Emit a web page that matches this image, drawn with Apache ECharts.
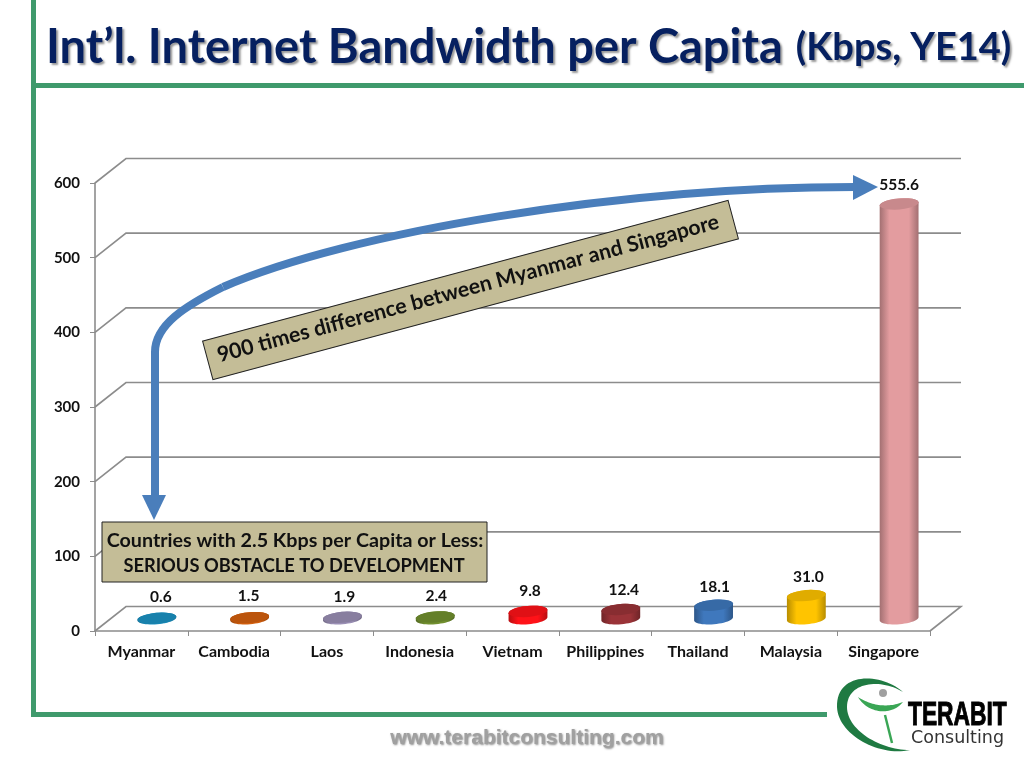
<!DOCTYPE html>
<html>
<head>
<meta charset="utf-8">
<style>
  html, body { margin: 0; padding: 0; background: #fff; }
  #chart { width: 1024px; height: 768px; }
</style>
<script src="https://cdn.jsdelivr.net/npm/echarts@6/dist/echarts.min.js"></script>
</head>
<body>
<div id="chart"></div>
<script>
const countries = ["Myanmar", "Cambodia", "Laos", "Indonesia", "Vietnam", "Philippines", "Thailand", "Malaysia", "Singapore"];
const bandwidth = [0.6, 1.5, 1.9, 2.4, 9.8, 12.4, 18.1, 31.0, 555.6];
const barColors = ["#1b93c4", "#d4600e", "#9a8fb5", "#72902f", "#ff1218", "#9a3338", "#3f78bd", "#ffc400", "#e39c9f"];
const yTicks = [0, 100, 200, 300, 400, 500, 600];

// the labels were moved by hand in the original slide
const labelNudge = [[4, -1], [-1, -2], [2, 0], [1, -1], [2, 0], [3, 1], [1, 2], [2, 1], [0, 1]];

const FONT = "Lato";
const GREEN = "#3f9a6c";
const BLUE = "#4a7ebb";
const KHAKI = "#c4bd97";
const DEPTH_X = 31, DEPTH_Y = -24.5;
const RX = 19.5, RY = 5.5, TILT = 5 * Math.PI / 180;

function shade(hex, f) {
  const n = parseInt(hex.slice(1), 16);
  return "rgb(" + Math.round((n >> 16) * f) + "," + Math.round(((n >> 8) & 255) * f) + "," + Math.round((n & 255) * f) + ")";
}

function ellipsePoints(cx, cy, from, to) {
  const pts = [];
  for (let i = 0; i <= 24; i++) {
    const t = from + (to - from) * i / 24;
    const ex = RX * Math.cos(t), ey = RY * Math.sin(t);
    pts.push([cx + ex * Math.cos(TILT) + ey * Math.sin(TILT), cy - ex * Math.sin(TILT) + ey * Math.cos(TILT)]);
  }
  return pts;
}

function renderWall(params, api) {
  const cs = params.coordSys;
  const p = api.coord([0, api.value(0)]);
  const left = cs.x, right = cs.x + cs.width;
  const pts = [[left, p[1]], [left + DEPTH_X, p[1] + DEPTH_Y], [right + DEPTH_X, p[1] + DEPTH_Y]];
  if (api.value(0) === 0) pts.push([right, p[1]]);
  return {
    type: "polyline",
    shape: { points: pts },
    style: { stroke: "#8c8c8c", lineWidth: 1.6, fill: null }
  };
}

function renderCylinder(params, api) {
  const i = api.value(0), v = api.value(1);
  const base = api.coord([i, 0]), top = api.coord([i, v]);
  const cx = base[0] + DEPTH_X / 2;
  const yBase = base[1] + DEPTH_Y / 2, yTop = top[1] + DEPTH_Y / 2;
  const color = barColors[i];
  const dark = shade(color, 0.72);
  const nudge = labelNudge[i];
  const body = ellipsePoints(cx, yBase, 0, Math.PI).concat(ellipsePoints(cx, yTop, Math.PI, 2 * Math.PI));
  return {
    type: "group",
    children: [
      {
        type: "polygon",
        shape: { points: body },
        style: {
          fill: new echarts.graphic.LinearGradient(0, 0, 1, 0, [
            { offset: 0, color: dark },
            { offset: 0.25, color: color },
            { offset: 0.75, color: color },
            { offset: 1, color: dark }
          ])
        }
      },
      {
        type: "polygon",
        shape: { points: ellipsePoints(cx, yTop, 0, 2 * Math.PI) },
        style: { fill: shade(color, 0.88) }
      },
      {
        type: "text",
        style: {
          x: cx + nudge[0],
          y: yTop - 20 + nudge[1],
          text: v.toFixed(1),
          fill: "#111",
          font: "bold 15.5px " + FONT,
          align: "center",
          verticalAlign: "middle"
        }
      }
    ]
  };
}

function bezierPoints(a, c1, c2, b) {
  const pts = [];
  for (let i = 0; i <= 30; i++) {
    const t = i / 30, u = 1 - t;
    pts.push([
      u * u * u * a[0] + 3 * u * u * t * c1[0] + 3 * u * t * t * c2[0] + t * t * t * b[0],
      u * u * u * a[1] + 3 * u * u * t * c1[1] + 3 * u * t * t * c2[1] + t * t * t * b[1]
    ]);
  }
  return pts;
}

function bar(x, y, w, h) {
  return { type: "rect", shape: { x: x, y: y, width: w, height: h }, style: { fill: GREEN }, z: 50 };
}

const crescent = bezierPoints([903, 692], [880, 672], [836, 672], [837, 707])
  .concat(bezierPoints([837, 707], [838, 735], [880, 757], [910, 750]))
  .concat(bezierPoints([910, 750], [880, 750], [847, 730], [847, 707]))
  .concat(bezierPoints([847, 707], [847, 682], [880, 678], [903, 692]));
const dish = bezierPoints([858, 697], [868, 714], [892, 716], [903, 702])
  .concat(bezierPoints([903, 702], [888, 708], [872, 706], [858, 697]));

const graphicElements = [
  bar(31, 0, 5, 717),
  bar(36, 83, 988, 5),
  bar(36, 712, 791, 5),
  // arrow
  { type: "line", shape: { x1: 155, y1: 497, x2: 155, y2: 352 }, style: { stroke: BLUE, lineWidth: 8 }, z: 60 },
  { type: "bezierCurve", shape: { x1: 155, y1: 352, cpx1: 155, cpy1: 325, cpx2: 185, cpy2: 306, x2: 223, y2: 287 }, style: { stroke: BLUE, lineWidth: 8, fill: null }, z: 60 },
  { type: "bezierCurve", shape: { x1: 223, y1: 287, cpx1: 350, cpy1: 232, cpx2: 620, cpy2: 187, x2: 855, y2: 187 }, style: { stroke: BLUE, lineWidth: 8, fill: null }, z: 60 },
  { type: "polygon", shape: { points: [[142, 495], [166, 495], [154, 520]] }, style: { fill: BLUE }, z: 60 },
  { type: "polygon", shape: { points: [[853, 175], [853, 200], [878, 187]] }, style: { fill: BLUE }, z: 60 },
  // callout on the lower left
  { type: "rect", shape: { x: 102, y: 522, width: 385, height: 60 }, style: { fill: KHAKI, stroke: "#222", lineWidth: 1 }, z: 70 },
  { type: "text", style: { x: 295, y: 541, text: "Countries with 2.5 Kbps per Capita or Less:", font: "bold 19.7px " + FONT, fill: "#111", align: "center", verticalAlign: "middle" }, z: 71 },
  { type: "text", style: { x: 294, y: 566, text: "SERIOUS OBSTACLE TO DEVELOPMENT", font: "bold 18.3px " + FONT, fill: "#111", align: "center", verticalAlign: "middle" }, z: 71 },
  // rotated callout
  {
    type: "group", x: 470.5, y: 290, rotation: 15 * Math.PI / 180, z: 70,
    children: [
      { type: "rect", shape: { x: -272, y: -20, width: 544, height: 40 }, style: { fill: KHAKI, stroke: "#222", lineWidth: 1 }, z: 70 },
      { type: "text", style: { x: -2, y: -2, text: "900 times difference between Myanmar and Singapore", font: "bold 21.3px " + FONT, fill: "#111", align: "center", verticalAlign: "middle" }, z: 71 }
    ]
  },
  // footer
  { type: "text", style: { x: 527, y: 738, text: "www.terabitconsulting.com", font: "bold 21px 'Liberation Sans'", fill: "#a0a0a0", align: "center", verticalAlign: "middle", textShadowColor: "rgba(0,0,0,0.45)", textShadowBlur: 2, textShadowOffsetX: 1, textShadowOffsetY: 1 }, z: 50 },
  // logo
  { type: "polygon", shape: { points: crescent }, style: { fill: "#1f7a42" }, z: 50 },
  { type: "polygon", shape: { points: dish }, style: { fill: "#3aa655" }, z: 50 },
  { type: "circle", shape: { cx: 883, cy: 693, r: 4 }, style: { fill: "#a0a0a0" }, z: 50 },
  { type: "line", shape: { x1: 885, y1: 715, x2: 892, y2: 743 }, style: { stroke: "#3aa655", lineWidth: 2.5 }, z: 50 },
  { type: "text", x: 908, y: 716, scaleX: 0.67, style: { x: 0, y: 0, text: "TERABIT", font: "bold 34px 'Liberation Sans'", fill: "#000", align: "left", verticalAlign: "middle", stroke: "#000", lineWidth: 1 }, z: 50 },
  { type: "text", style: { x: 911, y: 738, text: "Consulting", font: "17.5px 'DejaVu Sans'", fill: "#333", align: "left", verticalAlign: "middle" }, z: 50 }
];

const chart = echarts.init(document.getElementById("chart"));
chart.setOption({
  animation: false,
  backgroundColor: "#fff",
  title: {
    left: 46,
    top: 24,
    padding: 0,
    text: "{a|Int\u2019l. Internet Bandwidth per Capita}{s| }{b|(Kbps, YE14)}",
    textStyle: {
      rich: {
        a: { fontFamily: FONT, fontWeight: "bold", fontSize: 47, color: "#062060", textShadowColor: "rgba(0,0,0,0.4)", textShadowBlur: 2, textShadowOffsetX: 2, textShadowOffsetY: 2 },
        s: { width: 13 },
        b: { fontFamily: FONT, fontWeight: "bold", fontSize: 38, color: "#062060", textShadowColor: "rgba(0,0,0,0.4)", textShadowBlur: 2, textShadowOffsetX: 2, textShadowOffsetY: 2 }
      }
    }
  },
  grid: { left: 95, right: 94, top: 183, bottom: 137 },
  xAxis: {
    type: "category",
    data: countries,
    axisLine: { lineStyle: { color: "#8c8c8c", width: 1.6 } },
    axisTick: { show: true, alignWithLabel: false, length: 5, lineStyle: { color: "#8c8c8c" } },
    axisLabel: { color: "#111", fontFamily: FONT, fontWeight: "bold", fontSize: 16, margin: 13, interval: 0 }
  },
  yAxis: {
    type: "value",
    min: 0,
    max: 600,
    interval: 100,
    axisLine: { show: true, lineStyle: { color: "#8c8c8c", width: 1.6 } },
    axisTick: { show: true, length: 5, lineStyle: { color: "#8c8c8c" } },
    axisLabel: { color: "#111", fontFamily: FONT, fontWeight: "bold", fontSize: 15, margin: 15 },
    splitLine: { show: false }
  },
  series: [
    {
      type: "custom",
      name: "wall",
      coordinateSystem: "cartesian2d",
      renderItem: renderWall,
      data: yTicks.map(function (v) { return [v]; }),
      encode: { y: 0 },
      silent: true,
      z: 1
    },
    {
      type: "custom",
      name: "Kbps",
      coordinateSystem: "cartesian2d",
      renderItem: renderCylinder,
      data: bandwidth.map(function (v, i) { return [i, v]; }),
      encode: { x: 0, y: 1 },
      z: 3
    }
  ],
  graphic: { elements: graphicElements }
});
</script>
</body>
</html>
